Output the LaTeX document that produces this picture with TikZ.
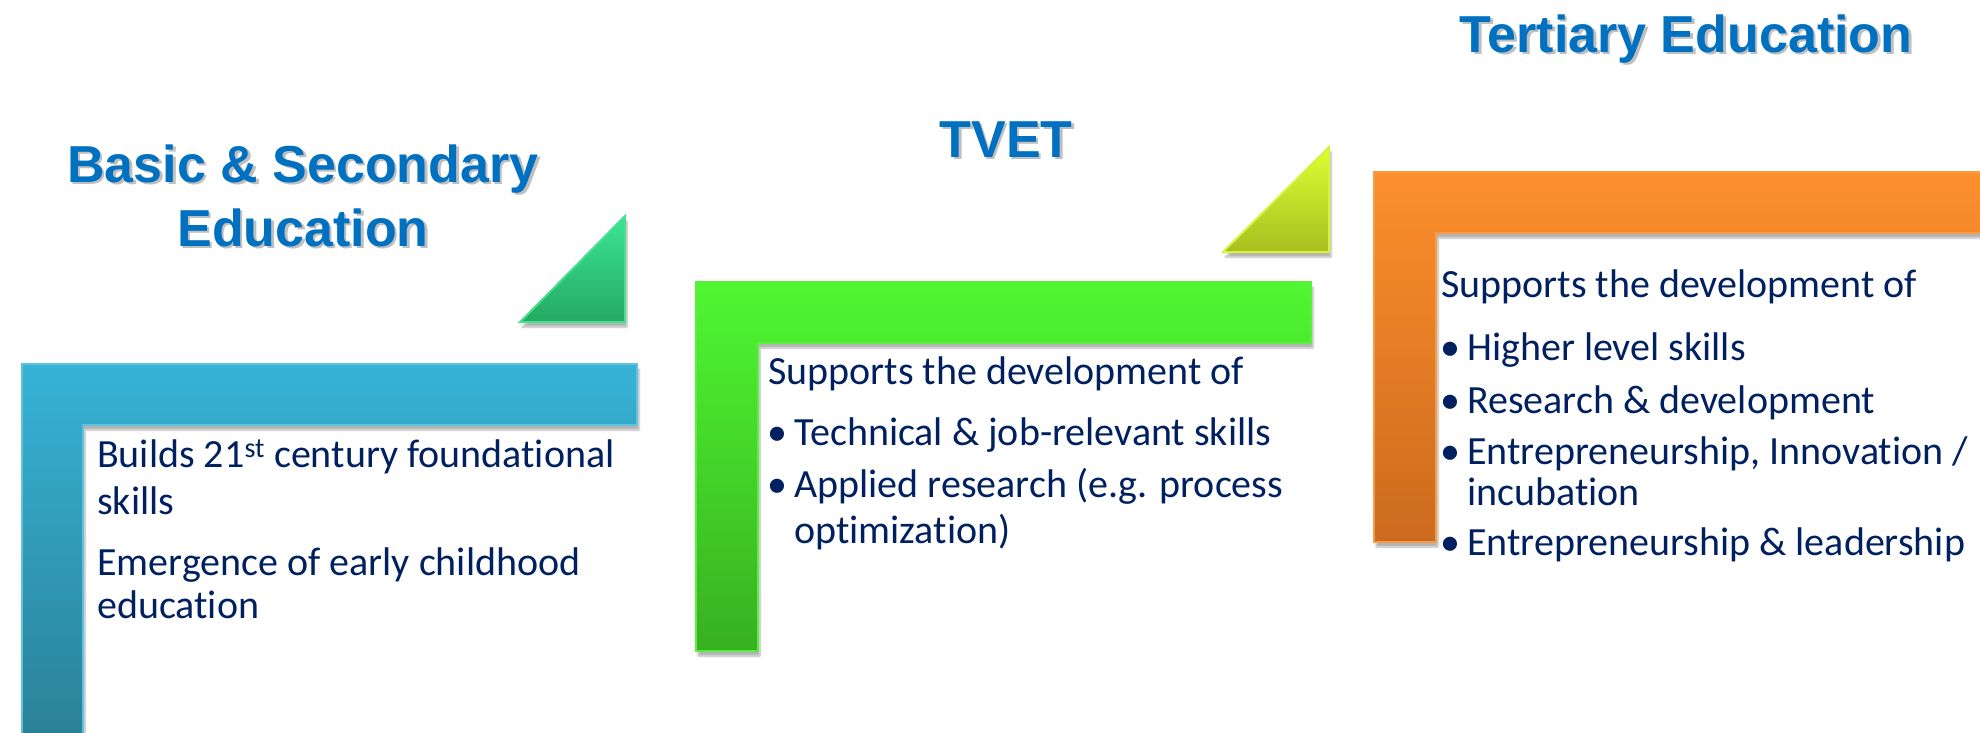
\documentclass[tikz,border=0pt]{standalone}
\usepackage{fontspec}
\setmainfont{Carlito}[RawFeature={-liga;-clig;-dlig}]
\newfontfamily\titlefont{Liberation Sans}
\usetikzlibrary{shadows.blur}
\definecolor{txt}{HTML}{002060}
\definecolor{ttl}{HTML}{0070C0}
\definecolor{blueT}{HTML}{37B3D6}
\definecolor{blueB}{HTML}{2A8096}
\definecolor{gtriT}{HTML}{3BE592}
\definecolor{gtriB}{HTML}{25AA62}
\definecolor{gtriE}{HTML}{48E08F}
\definecolor{greenT}{HTML}{4FF731}
\definecolor{greenB}{HTML}{38B021}
\definecolor{greenE}{HTML}{5AEF3F}
\definecolor{yelT}{HTML}{DDFF33}
\definecolor{yelB}{HTML}{A6BF1F}
\definecolor{yelE}{HTML}{D6F23D}
\definecolor{orT}{HTML}{FD8F2C}
\definecolor{orB}{HTML}{CB6A1E}
\definecolor{orE}{HTML}{F79B45}
\tikzset{
  body/.style={anchor=base west, inner sep=0pt, text=txt, font=\fontsize{40}{48}\selectfont},
  title/.style={anchor=base, inner sep=0pt, text=ttl, font=\titlefont\bfseries\fontsize{52}{60}\selectfont},
  tshadow/.style={anchor=base, inner sep=0pt, text=black, opacity=0.25, font=\titlefont\bfseries\fontsize{52}{60}\selectfont},
  lshape/.style={line width=2pt, line join=miter, blur shadow={shadow xshift=2pt, shadow yshift=-5pt, shadow blur steps=6, shadow opacity=30}},
}
\newcommand{\bul}{\llap{\makebox[34pt][c]{\textbullet}}}
\begin{document}
\begin{tikzpicture}[x=1pt,y=-1pt]
\useasboundingbox (0,0) rectangle (1980,732);

% L shapes
\path[lshape, draw=blueT!80!white, top color=blueT, bottom color=blueB]
  (22,364) -- (637,364) -- (637,425) -- (83,425) -- (83,745) -- (22,745) -- cycle;
\path[lshape, draw=greenE, top color=greenT, bottom color=greenB]
  (696,282) -- (1311,282) -- (1311,343) -- (758,343) -- (758,651) -- (696,651) -- cycle;
\path[lshape, draw=orE, top color=orT, bottom color=orB]
  (1374,172) -- (1995,172) -- (1995,233) -- (1436,233) -- (1436,542) -- (1374,542) -- cycle;

% triangles
\path[lshape, draw=gtriE, top color=gtriT, bottom color=gtriB]
  (520,322) -- (625,216) -- (625,322) -- cycle;
\path[lshape, draw=yelE, top color=yelT, bottom color=yelB]
  (1223,252) -- (1329,147) -- (1329,252) -- cycle;

% titles
\node[tshadow] (t1s) at (305.5,184.5) {Basic \& Secondary};
\node[title] (t1) at (303,182) {Basic \& Secondary};
\node[tshadow] (t1bs) at (305.5,248.5) {Education};
\node[title] (t1b) at (303,246) {Education};
\node[tshadow] (t2s) at (1008.5,159.5) {TVET};
\node[title] (t2) at (1006,157) {TVET};
\node[tshadow] (t3s) at (1688.5,54.5) {Tertiary Education};
\node[title] (t3) at (1686,52) {Tertiary Education};

% blue text
\node[body] (a1) at (97,467) {Builds 21\textsuperscript{st} century foundational};
\node[body] (a2) at (97,514) {skills};
\node[body] (a3) at (97,575) {Emergence of early childhood};
\node[body] (a4) at (97,618) {education};

% green text
\node[body] (g1) at (768,384) {Supports the development of};
\node[body] (g2) at (794,445) {\bul Technical \& job-relevant skills};
\node[body] (g3) at (794,497) {\bul Applied research (e.g. process};
\node[body] (g4) at (794,543) {optimization)};

% orange text
\node[body] (o1) at (1441,297) {Supports the development of};
\node[body] (o2) at (1467,360) {\bul Higher level skills};
\node[body] (o3) at (1467,413) {\bul Research \& development};
\node[body] (o4) at (1467,464) {\bul Entrepreneurship, Innovation /};
\node[body] (o5) at (1467,505) {incubation};
\node[body] (o6) at (1467,555) {\bul Entrepreneurship \& leadership};
\end{tikzpicture}
\end{document}
